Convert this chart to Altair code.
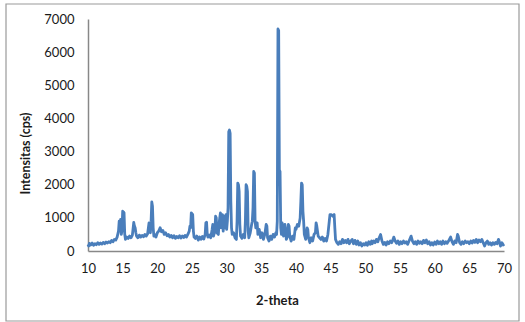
import altair as alt
import pandas as pd

two_theta = [
    10.0, 10.1, 10.2, 10.4, 10.6, 10.8, 11.0, 11.2, 11.4, 11.6, 11.8, 12.0, 12.2, 12.4, 12.6, 12.8,
    13.0, 13.2, 13.4, 13.6, 13.8, 14.0, 14.2, 14.4, 14.5, 14.6, 14.7, 14.8, 14.9, 15.0, 15.1, 15.2,
    15.3, 15.4, 15.6, 15.8, 16.0, 16.2, 16.4, 16.6, 16.7, 16.8, 16.9, 17.0, 17.2, 17.4, 17.6, 17.8,
    18.0, 18.2, 18.4, 18.6, 18.8, 18.9, 19.0, 19.1, 19.2, 19.3, 19.4, 19.5, 19.6, 19.8, 20.0, 20.2,
    20.4, 20.6, 20.8, 21.0, 21.2, 21.4, 21.6, 21.8, 22.0, 22.2, 22.4, 22.6, 22.8, 23.0, 23.2, 23.4,
    23.6, 23.8, 24.0, 24.2, 24.4, 24.6, 24.7, 24.8, 24.9, 25.0, 25.1, 25.2, 25.3, 25.5, 25.7, 25.9,
    26.1, 26.3, 26.5, 26.7, 26.9, 27.0, 27.1, 27.2, 27.3, 27.5, 27.7, 27.9, 28.0, 28.1, 28.3, 28.4,
    28.5, 28.6, 28.8, 28.9, 29.0, 29.1, 29.2, 29.3, 29.4, 29.5, 29.6, 29.7, 29.8, 29.9, 30.0, 30.1,
    30.2, 30.3, 30.4, 30.5, 30.6, 30.7, 30.8, 31.0, 31.2, 31.4, 31.5, 31.6, 31.7, 31.8, 31.9, 32.0,
    32.2, 32.4, 32.6, 32.7, 32.8, 32.9, 33.0, 33.1, 33.2, 33.4, 33.6, 33.7, 33.8, 33.9, 34.0, 34.1,
    34.2, 34.4, 34.5, 34.7, 34.9, 35.1, 35.3, 35.5, 35.7, 35.8, 35.9, 36.1, 36.3, 36.5, 36.7, 36.9,
    37.1, 37.2, 37.3, 37.4, 37.5, 37.6, 37.7, 37.8, 37.9, 38.0, 38.1, 38.2, 38.4, 38.5, 38.6, 38.8,
    38.9, 39.0, 39.1, 39.3, 39.5, 39.7, 39.9, 40.0, 40.2, 40.4, 40.6, 40.7, 40.8, 40.9, 41.0, 41.1,
    41.2, 41.4, 41.6, 41.7, 41.8, 42.0, 42.2, 42.4, 42.6, 42.8, 42.9, 43.0, 43.2, 43.4, 43.6, 43.8,
    44.0, 44.2, 44.4, 44.6, 44.8, 44.9, 45.1, 45.3, 45.5, 45.6, 45.7, 45.9, 46.1, 46.3, 46.5, 46.7,
    46.9, 47.1, 47.3, 47.5, 47.7, 47.9, 48.1, 48.3, 48.5, 48.7, 48.9, 49.1, 49.3, 49.5, 49.7, 49.9,
    50.1, 50.3, 50.5, 50.7, 50.9, 51.0, 51.2, 51.4, 51.6, 51.8, 52.0, 52.2, 52.4, 52.6, 52.8, 53.0,
    53.2, 53.4, 53.6, 53.8, 54.0, 54.1, 54.3, 54.5, 54.7, 54.9, 55.1, 55.3, 55.5, 55.7, 55.9, 56.1,
    56.3, 56.5, 56.6, 56.8, 57.0, 57.2, 57.4, 57.6, 57.8, 58.0, 58.2, 58.4, 58.6, 58.8, 59.0, 59.2,
    59.4, 59.6, 59.8, 60.0, 60.2, 60.4, 60.6, 60.8, 61.0, 61.2, 61.4, 61.6, 61.8, 62.0, 62.2, 62.3,
    62.5, 62.7, 62.9, 63.1, 63.3, 63.4, 63.6, 63.8, 64.0, 64.2, 64.4, 64.6, 64.8, 65.0, 65.2, 65.4,
    65.6, 65.8, 66.0, 66.2, 66.4, 66.6, 66.8, 67.0, 67.2, 67.4, 67.6, 67.8, 68.0, 68.2, 68.4, 68.6,
    68.8, 69.0, 69.2, 69.3, 69.5, 69.7, 69.9, 70.0,
]

intensity = [
    200, 150, 230, 180, 240, 170, 220, 190, 250, 200, 240, 210, 260, 220, 270, 240,
    280, 250, 320, 280, 350, 330, 420, 600, 900, 700, 950, 500, 600, 1200, 1180, 1150,
    500, 350, 420, 380, 450, 400, 480, 860, 750, 700, 550, 450, 400, 480, 420, 470,
    430, 500, 450, 520, 850, 600, 550, 900, 1480, 1350, 700, 450, 500, 420, 550, 600,
    700, 580, 620, 500, 550, 460, 500, 420, 470, 400, 460, 380, 440, 400, 460, 390,
    450, 410, 470, 420, 500, 600, 750, 700, 1150, 1120, 1100, 600, 420, 380, 450, 330,
    420, 350, 440, 360, 500, 850, 870, 500, 420, 480, 400, 650, 800, 450, 600, 1050,
    1000, 550, 500, 800, 1000, 1150, 700, 800, 1100, 600, 900, 1050, 700, 1100, 650, 900,
    1300, 3600, 3650, 3550, 1500, 700, 500, 550, 400, 350, 900, 2050, 2000, 1800, 800, 450,
    380, 500, 400, 900, 2000, 1950, 1800, 600, 400, 550, 800, 900, 1300, 2400, 2350, 900,
    700, 850, 500, 650, 400, 550, 350, 500, 800, 750, 400, 300, 450, 350, 500, 420,
    550, 500, 900, 6700, 6650, 2450, 2400, 700, 500, 850, 700, 450, 800, 650, 350, 450,
    800, 750, 450, 300, 450, 350, 700, 650, 800, 750, 1000, 1500, 2050, 2000, 1200, 900,
    500, 350, 700, 650, 400, 250, 400, 300, 500, 550, 850, 750, 450, 400, 350, 420,
    300, 380, 300, 500, 900, 1100, 1100, 1050, 1100, 700, 350, 250, 200, 280, 220, 350,
    250, 320, 250, 350, 220, 300, 350, 220, 320, 200, 300, 180, 250, 150, 220, 180,
    250, 170, 280, 200, 300, 220, 300, 250, 350, 280, 400, 500, 300, 200, 260, 180,
    280, 220, 300, 250, 350, 420, 300, 230, 300, 200, 280, 220, 300, 240, 280, 200,
    300, 400, 450, 300, 220, 280, 200, 300, 230, 280, 220, 320, 250, 330, 220, 280,
    180, 250, 180, 270, 200, 300, 220, 280, 200, 300, 220, 280, 230, 300, 380, 420,
    280, 200, 300, 250, 500, 450, 250, 200, 280, 220, 300, 250, 280, 220, 300, 240,
    320, 260, 350, 250, 330, 280, 350, 250, 150, 250, 300, 200, 250, 180, 250, 200,
    260, 220, 350, 300, 150, 250, 180, 150,
]

x_ticks = [10, 15, 20, 25, 30, 35, 40, 45, 50, 55, 60, 65, 70]
y_ticks = [0, 1000, 2000, 3000, 4000, 5000, 6000, 7000]

df = pd.DataFrame({"two_theta": two_theta, "intensity": intensity})

FONT = "Lato"

line = alt.Chart(df).mark_line(color="#4A7EBB", strokeWidth=2.8, strokeJoin="round").encode(
    x=alt.X(
        "two_theta:Q",
        scale=alt.Scale(domain=[10, 70], nice=False, zero=False),
        axis=alt.Axis(
            values=x_ticks, title="2-theta", grid=False, ticks=False, format="d",
            domainColor="#888888", domainWidth=1.5, labelPadding=11,
            labelFont=FONT, labelFontSize=13, labelColor="#1a1a1a",
            titleFont=FONT, titleFontSize=13, titleFontWeight="bold", titleColor="#1a1a1a",
            titleX=189, titleY=43, labelFlush=False,
        ),
    ),
    y=alt.Y(
        "intensity:Q",
        scale=alt.Scale(domain=[0, 7000], nice=False),
        axis=alt.Axis(
            values=y_ticks, title="Intensitas (cps)", grid=False, ticks=False, format="d",
            domainColor="#888888", domainWidth=1.5, labelPadding=14,
            labelFont=FONT, labelFontSize=13, labelColor="#1a1a1a",
            titleFont=FONT, titleFontSize=12.5, titleFontWeight="bold", titleColor="#1a1a1a",
            titleX=-63, titleY=134, titleAngle=270, titleBaseline="middle", titleAlign="center",
        ),
    ),
)

border = alt.Chart(pd.DataFrame({"b": [0]})).mark_rect(
    filled=False, stroke="#9a9a9a", strokeWidth=1.2, clip=False
).encode(
    x=alt.value(-82), x2=alt.value(431), y=alt.value(-15), y2=alt.value(302)
)

chart = alt.layer(border, line).properties(
    width=416, height=232,
    autosize=alt.AutoSizeParams(type="none"),
    padding={"left": 88, "top": 19, "right": 21, "bottom": 71},
    background="white",
).configure_view(stroke=None)

chart.save("out.html", embed_options={"renderer": "svg", "actions": False})
